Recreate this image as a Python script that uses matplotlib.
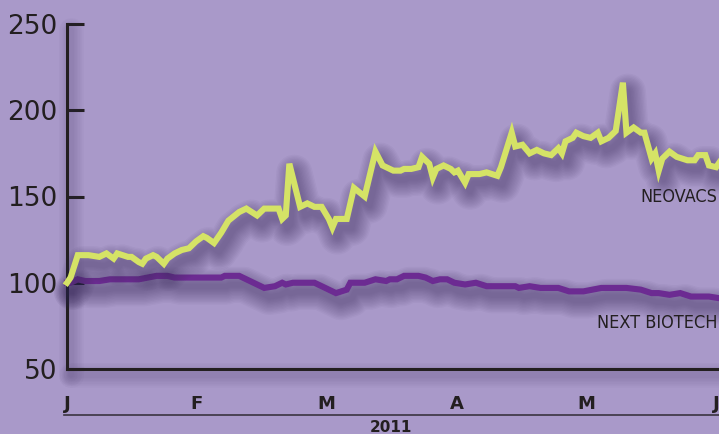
import numpy as np
import matplotlib
matplotlib.use("Agg")
import matplotlib.pyplot as plt
import matplotlib.patheffects as pe
from matplotlib.lines import Line2D

# jours depuis le debut (axe) et valeurs base 100
jours_neovacs = [0, 1, 3, 6, 9, 11, 13, 14, 17, 18, 20, 21, 22, 24, 25, 27, 28, 30, 32, 34,
                 36, 38, 39, 41, 43, 45, 48, 50, 53, 55, 59, 60, 61, 62, 65, 67, 69, 71, 73,
                 74, 75, 78, 80, 83, 86, 88, 91, 93, 94, 96, 98, 99, 101, 102, 103, 105, 107,
                 108, 109, 111, 112, 115, 117, 120, 121, 124, 125, 127, 129, 131, 133, 135,
                 137, 138, 139, 141, 142, 144, 146, 148, 149, 151, 153, 155, 156, 158, 160,
                 161, 163, 164, 165, 166, 168, 170, 173, 175, 176, 178, 179, 181, 182]
neovacs = [100, 103, 116, 116, 115, 117, 114, 117, 115, 115, 112, 111, 114, 116, 115, 111,
           114, 117, 119, 120, 124, 127, 126, 123, 129, 136, 141, 143, 139, 143, 143, 137,
           139, 169, 144, 146, 144, 144, 137, 132, 137, 137, 155, 150, 176, 168, 165, 165,
           166, 166, 167, 173, 169, 161, 166, 168, 166, 164, 165, 158, 163, 163, 164, 162,
           167, 187, 179, 180, 175, 177, 175, 174, 178, 175, 182, 184, 187, 185, 184, 187,
           182, 184, 188, 216, 187, 190, 187, 187, 172, 175, 165, 172, 176, 173, 171, 171,
           174, 174, 168, 167, 170]

jours_next = [0, 1, 3, 5, 9, 12, 15, 18, 20, 25, 28, 30, 33, 43, 44, 48, 50, 52, 55, 58, 60,
              61, 63, 66, 69, 72, 75, 78, 79, 83, 86, 89, 90, 92, 94, 98, 100, 102, 104, 106,
              108, 111, 114, 117, 119, 125, 126, 129, 132, 135, 137, 140, 144, 149, 151, 154,
              156, 160, 163, 165, 168, 171, 174, 177, 179, 182]
next_biotech = [100, 100, 102, 101, 101, 102, 102, 102, 102, 104, 104, 103, 103, 103, 104, 104,
                102, 100, 97, 98, 100, 99, 100, 100, 100, 97, 94, 96, 100, 100, 102, 101, 102,
                102, 104, 104, 103, 101, 102, 102, 100, 99, 100, 98, 98, 98, 97, 98, 97, 97,
                97, 95, 95, 97, 97, 97, 97, 96, 94, 94, 93, 94, 92, 92, 92, 91]

mois = ["J", "F", "M", "A", "M", "J"]
yticks = [50, 100, 150, 200, 250]

fond = "#a999c9"
noir = "#231f20"


def ombre(dx=3.6, dy=-6.5, a=0.045, wmax=28):
    fx = [pe.Stroke(offset=(dx, dy), linewidth=w, foreground="#3a2a5a", alpha=a,
                    joinstyle="round", capstyle="round")
          for w in range(4, wmax, 2)]
    return fx + [pe.Normal()]


fig = plt.figure(figsize=(7.19, 4.34), dpi=100, facecolor=fond)
ax = fig.add_axes([67 / 719, 1 - 369 / 434, 1 - 67 / 719, (369 - 24) / 434])
ax.set_facecolor(fond)

ax.plot(jours_next, next_biotech, color="#6c2b92", lw=4.4, solid_joinstyle="miter",
        clip_on=False, path_effects=ombre(), zorder=3)
ax.plot(jours_neovacs, neovacs, color="#d5e366", lw=4.4, solid_joinstyle="miter",
        clip_on=False, path_effects=ombre(), zorder=4)

ax.set_xlim(0, 181.8)
ax.set_ylim(50, 250)

for s in ["top", "right"]:
    ax.spines[s].set_visible(False)
for s in ["left", "bottom"]:
    ax.spines[s].set_linewidth(2.2)
    ax.spines[s].set_color(noir)
    ax.spines[s].set_path_effects(ombre(3, -4, 0.025, 20))

ax.set_yticks(yticks)
ax.tick_params(axis="y", direction="in", length=12, width=2.2, color=noir,
               labelsize=19, labelcolor=noir, pad=7)
ax.set_xticks(np.linspace(0, 181, len(mois)))
ax.set_xticklabels(mois, fontweight="bold", fontsize=13, color=noir)
ax.tick_params(axis="x", length=0, pad=19)

ax.text(0.997, 150, "NEOVACS", transform=ax.get_yaxis_transform(), ha="right", va="center",
        fontsize=13, color=noir, fontstretch="condensed")
ax.text(0.997, 76.5, "NEXT BIOTECH", transform=ax.get_yaxis_transform(), ha="right",
        va="center", fontsize=13, color=noir, fontstretch="condensed")

fig.add_artist(Line2D([64 / 719, 1], [1 - 415 / 434] * 2, transform=fig.transFigure,
                      color="#3a3340", lw=1.2))
fig.text(391 / 719, 1 - 428 / 434, "2011", ha="center", va="center", fontsize=11,
         fontweight="bold", color=noir)

fig.savefig("out.png", dpi=100, facecolor=fond)
